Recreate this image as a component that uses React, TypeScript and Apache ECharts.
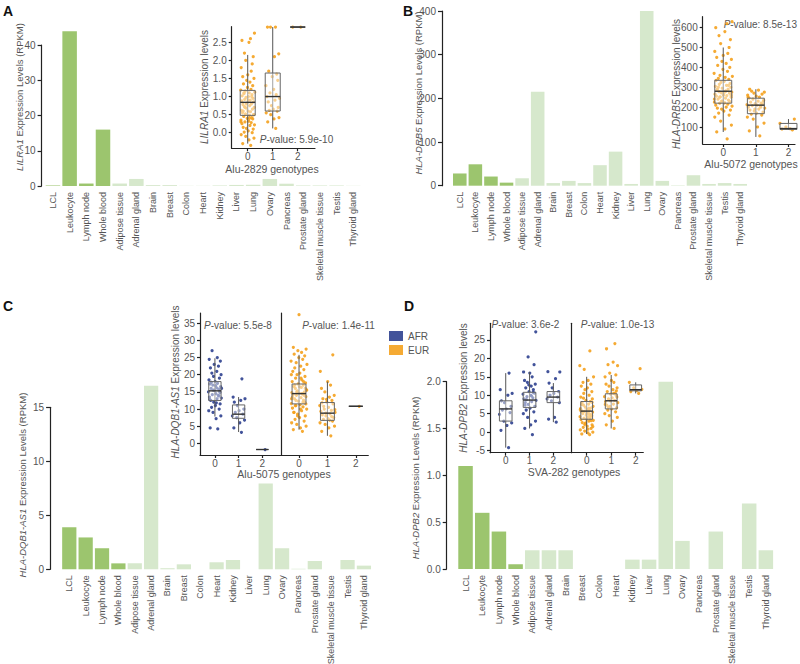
import React, { useEffect, useRef } from "react";
import * as echarts from "echarts";

// ---------- data ----------
const tissues = [
  "LCL", "Leukocyte", "Lymph node", "Whole blood", "Adipose tissue", "Adrenal gland",
  "Brain", "Breast", "Colon", "Heart", "Kidney", "Liver", "Lung", "Ovary", "Pancreas",
  "Prostate gland", "Skeletal muscle tissue", "Testis", "Thyroid gland",
];
const bloodTissueCount = 4;

const lilra1Rpkm = [0.15, 43.9, 0.7, 16, 0.7, 2.0, 0.25, 0.25, 0.05, 0.05, 0.15, 0.3, 0.35, 2.0, 0.65, 0.15, 0.15, 0.15, 0.05];
const drb5Rpkm = [28, 49, 21, 7, 17, 215, 6, 11, 6, 47, 78, 4, 400, 11, 1, 24, 4, 6, 4];
const dqb1as1Rpkm = [3.9, 2.95, 1.95, 0.55, 0.55, 17, 0.1, 0.46, 0, 0.65, 0.86, 0, 7.95, 1.95, 0.05, 0.77, 0, 0.86, 0.34];
const dpb2Rpkm = [1.1, 0.6, 0.4, 0.05, 0.2, 0.2, 0.2, 0, 0, 0, 0.1, 0.1, 2.0, 0.3, 0, 0.4, 0, 0.7, 0.2];

const genotypes = [0, 1, 2];
const lilra1Ticks = [0, 0.5, 1, 1.5, 2, 2.5];
const drb5Ticks = [100, 200, 300, 400, 500, 600];
const dqb1Ticks = [0, 5, 10, 15, 20, 25, 30, 35];
const dpb2Ticks = [-5, 0, 5, 10, 15, 20, 25];

// box stats: [genotype, low whisker, q1, median, q3, high whisker]
const lilra1Box = [[0, -0.3, 0.48, 0.84, 1.17, 2.15], [1, 0.12, 0.6, 1.0, 1.65, 2.92], [2, 2.92, 2.92, 2.92, 2.92, 2.92]];
const drb5Box = [[0, 75, 220, 280, 335, 500], [1, 50, 167, 210, 245, 290], [2, 85, 88, 92, 118, 140]];
const dqb1AfrBox = [[0, 7.8, 12.5, 15.3, 18, 24.8], [1, 3.3, 7.3, 8.5, 11.2, 13.5], [2, -1.8, -1.8, -1.8, -1.8, -1.8]];
const dqb1EurBox = [[0, 4, 11.5, 14.5, 17.3, 25.8], [1, 2.2, 6.7, 8.8, 11.9, 18], [2, 10.8, 10.8, 10.8, 10.8, 10.8]];
const dpb2AfrBox = [[0, -4.2, 3, 6.3, 8.5, 16], [1, 1, 6.7, 8.7, 10.8, 16.3], [2, 2.7, 8, 9.5, 11, 13.3]];
const dpb2EurBox = [[0, -0.5, 3.5, 5.7, 8.3, 15], [1, 1, 6.3, 8.5, 10.4, 15.5], [2, 10.5, 11.2, 11.5, 12.8, 13.5]];

// individual expression values per genotype
const lilra1Pts = [
  [-0.35, -0.3, -0.2, -0.15, -0.1, -0.05, 0, 0.02, 0.05, 0.1, 0.12, 0.15, 0.2, 0.22, 0.25, 0.28, 0.3, 0.32, 0.35, 0.38, 0.4, 0.42, 0.45, 0.48, 0.5, 0.52, 0.55, 0.58, 0.6, 0.62, 0.65, 0.68, 0.7, 0.72, 0.75, 0.78, 0.8, 0.82, 0.85, 0.88, 0.9, 0.92, 0.95, 0.98, 1.0, 1.02, 1.05, 1.08, 1.1, 1.12, 1.15, 1.18, 1.2, 1.25, 1.3, 1.35, 1.4, 1.45, 1.5, 1.55, 1.6, 1.7, 1.8, 1.9, 2.0, 2.1, 2.2, 2.5, 2.55, 2.6, 2.75, 0.7, 0.9, 0.6, 1.0, 0.8, 0.5, 1.1, 0.4, 0.3],
  [0.12, 0.3, 0.38, 0.42, 0.5, 0.55, 0.6, 0.62, 0.65, 0.7, 0.75, 0.85, 0.9, 0.95, 1.0, 1.05, 1.1, 1.2, 1.3, 1.45, 1.55, 1.62, 1.7, 2.1, 2.18, 2.92, 2.92, 2.92],
  [2.92, 2.92],
];
const drb5Pts = [
  [40, 75, 90, 110, 130, 150, 160, 170, 180, 185, 190, 195, 200, 205, 210, 215, 220, 222, 225, 228, 230, 235, 240, 245, 250, 252, 255, 258, 260, 265, 270, 272, 275, 278, 280, 285, 290, 295, 300, 305, 310, 315, 320, 325, 330, 335, 340, 345, 350, 355, 360, 370, 380, 390, 400, 410, 420, 430, 440, 450, 460, 470, 480, 500, 520, 540, 560, 580, 600, 620, 630, 250, 270, 290, 310, 230, 260, 300, 280, 240],
  [55, 80, 100, 120, 140, 150, 160, 165, 170, 175, 180, 185, 190, 195, 200, 205, 208, 210, 212, 215, 218, 220, 225, 230, 235, 240, 245, 250, 255, 260, 265, 270, 275, 280, 285, 290, 200, 190, 230, 250],
  [85, 90, 92, 95, 100, 118, 140],
];
const dqb1AfrPts = [
  [4.2, 4.5, 7.2, 8, 9, 9.5, 10, 10.5, 11, 11.5, 12, 12.5, 13, 13.2, 13.5, 14, 14.2, 14.5, 15, 15.2, 15.5, 15.8, 16, 16.2, 16.5, 17, 17.3, 17.5, 18, 18.5, 19, 19.5, 20, 20.5, 21, 22, 22.5, 23, 24, 24.5, 25, 27, 14.8, 15.5, 16.8, 12.8, 13.8, 17.8, 11.8, 16],
  [3.2, 4.5, 6, 6.8, 7.5, 8, 8.5, 9, 9.5, 10, 11, 12, 12.5, 13, 13.5, 18.8],
  [-1.8],
];
const dqb1EurPts = [
  [3.5, 4, 4.5, 5, 5.5, 6, 6.5, 7, 7.5, 8, 8.5, 9, 9.5, 10, 10.3, 10.6, 11, 11.3, 11.6, 12, 12.3, 12.6, 13, 13.3, 13.6, 14, 14.2, 14.4, 14.6, 14.8, 15, 15.3, 15.6, 16, 16.3, 16.6, 17, 17.3, 17.6, 18, 18.5, 19, 19.5, 20, 20.5, 21, 21.5, 22, 22.5, 23, 23.5, 24, 24.5, 25, 25.5, 26, 26.5, 27, 27.5, 28, 37.5, 12, 13, 14, 15, 16, 11, 10, 13.5, 14.5, 15.5, 12.5, 16.5, 9, 18, 8, 11.5, 17, 19, 20],
  [2.2, 3.5, 4.5, 5, 5.5, 6, 6.5, 7, 7.2, 7.5, 8, 8.3, 8.6, 9, 9.3, 9.6, 10, 10.5, 11, 11.5, 12, 12.5, 13, 13.5, 14, 15, 16, 17, 18, 21, 25.8, 8.8, 9.8, 10.8, 6.8, 11.8, 7.8, 12.8],
  [10.8],
];
const dpb2AfrPts = [
  [-4.2, 0.5, 1.8, 2.5, 3, 4.8, 5.3, 6, 6.3, 7, 8, 8.5, 10, 10.5, 11.5, 16],
  [-0.7, 1, 2, 3, 4, 5, 5.5, 6, 6.5, 7, 7.5, 8, 8.3, 8.6, 9, 9.3, 9.6, 10, 10.3, 10.6, 11, 11.5, 12, 12.5, 13, 13.5, 14, 15, 16, 16.3, 18.3, 20.4, 27.2, 8.8, 9.8, 7.3, 10.8, 12.8],
  [2.7, 3.5, 4, 8, 8.5, 9, 9.5, 10, 10.5, 11, 12, 13.3, 14.5, 16.3, 16.4],
];
const dpb2EurPts = [
  [-0.7, -0.5, -0.2, 0, 0.3, 0.6, 1, 1.3, 1.6, 2, 2.3, 2.6, 3, 3.2, 3.4, 3.6, 3.8, 4, 4.2, 4.4, 4.6, 4.8, 5, 5.2, 5.4, 5.6, 5.8, 6, 6.2, 6.4, 6.6, 6.8, 7, 7.3, 7.6, 8, 8.3, 8.6, 9, 9.5, 10, 10.5, 11, 11.5, 12, 12.5, 13, 13.5, 14, 15, 17, 18, 22, 3.5, 4.5, 5.5, 6.5, 2.5, 1.5, 7.5, 5.1, 4.1, 6.1, 3.1, 2.1, 8.1, 9.2, 0.8, 5.7, 4.7],
  [1, 2, 3, 4, 4.5, 5, 5.5, 6, 6.3, 6.6, 7, 7.3, 7.6, 8, 8.3, 8.6, 9, 9.3, 9.6, 10, 10.3, 10.6, 11, 11.5, 12, 12.5, 13, 13.5, 14, 15, 15.5, 16, 18, 18.3, 19, 22.6, 24, 8.5, 9.5, 7.5, 10.5, 6.8, 11.2],
  [10.5, 11, 11.3, 11.6, 12, 13.5, 17.2],
];

// hand-typed horizontal jitter offsets (genotype units)
const jitterOffsets = [
  0.12, -0.2, 0.05, 0.25, -0.08, -0.26, 0.18, -0.14, 0.02, 0.22, -0.05, -0.18, 0.09, 0.27, -0.23, 0.14,
  -0.11, 0.04, -0.27, 0.2, -0.02, 0.16, -0.16, 0.07, 0.24, -0.09, -0.21, 0.11, 0.01, -0.25, 0.19, -0.06,
  0.26, -0.13, 0.08, -0.19, 0.15, -0.03, 0.23, -0.24, 0.1, -0.12, 0.21, -0.07, 0.03, -0.22, 0.17, -0.15,
  0.06, 0.28, -0.1, -0.28, 0.13, -0.01, 0.2, -0.17, 0.09, -0.04, 0.25, -0.2, 0.0, 0.14, -0.26, 0.18,
  -0.08, 0.22, -0.13, 0.05, -0.23, 0.11, 0.27, -0.11, 0.02, -0.18, 0.16, -0.05, 0.24, -0.15, 0.07, -0.27,
];

// ---------- styles ----------
const FONT = "'Liberation Sans Narrow', 'Liberation Sans', Arial, sans-serif";
const FONT_R = "'Liberation Sans', Arial, sans-serif";
const AX = "#222";
const LBL = "#555";
const DARK_G = "#9cc56e";
const LIGHT_G = "#d6e8cc";
const ORANGE = "#f4a11d";
const BLUE = "#2d408f";

export default function App() {
  const ref = useRef<HTMLDivElement>(null);

  useEffect(() => {
    if (!ref.current) return;
    document.body.style.margin = "0";
    const chart = echarts.init(ref.current, null, { renderer: "svg" });

    const grids: any[] = [];
    const xAxes: any[] = [];
    const yAxes: any[] = [];
    const series: any[] = [];

    const addGrid = (left: number, top: number, width: number, height: number) => {
      grids.push({ left, top, width, height, containLabel: false, outerBoundsMode: "none" });
      return grids.length - 1;
    };

    const barPanel = (
      g: number, values: number[], max: number, interval: number, offset: number, fmt?: (v: number) => string,
    ) => {
      xAxes.push({
        gridIndex: g, type: "category", data: tissues,
        axisLine: { show: false }, axisTick: { show: false },
        axisLabel: { rotate: 90, interval: 0, fontSize: 9, color: LBL, margin: 6, fontFamily: FONT_R },
        splitLine: { show: false },
      });
      yAxes.push({
        gridIndex: g, type: "value", min: 0, max, interval, offset,
        axisLine: { show: true, onZero: false, lineStyle: { color: AX, width: 1.2 } },
        axisTick: { show: true, length: 4, lineStyle: { color: AX, width: 1.2 } },
        axisLabel: { color: LBL, fontSize: 10, fontFamily: FONT, margin: 6, formatter: fmt },
        splitLine: { show: false },
      });
      const ai = xAxes.length - 1;
      series.push({
        type: "bar", xAxisIndex: ai, yAxisIndex: ai, barCategoryGap: "13%", clip: false, silent: true,
        data: values.map((v, i) => ({ value: v, itemStyle: { color: i < bloodTissueCount ? DARK_G : LIGHT_G } })),
      });
    };

    const insetAxes = (
      g: number, xmin: number, xmax: number, ymin: number, ymax: number,
      yTicks: number[] | null, fmt?: (v: number) => string,
    ) => {
      xAxes.push({
        gridIndex: g, type: "value", min: xmin, max: xmax,
        axisLine: { show: true, onZero: false, lineStyle: { color: AX, width: 1.2 } },
        axisTick: { show: true, customValues: genotypes, length: 3, lineStyle: { color: AX, width: 1.2 } },
        axisLabel: { customValues: genotypes, color: LBL, fontSize: 10, fontFamily: FONT, margin: 3 },
        splitLine: { show: false },
      });
      yAxes.push({
        gridIndex: g, type: "value", min: ymin, max: ymax,
        axisLine: { show: true, onZero: false, lineStyle: { color: AX, width: 1.2 } },
        axisTick: yTicks
          ? { show: true, customValues: yTicks, length: 3, lineStyle: { color: AX, width: 1.2 } }
          : { show: false },
        axisLabel: yTicks
          ? { customValues: yTicks, color: LBL, fontSize: 10, fontFamily: FONT, margin: 5, formatter: fmt }
          : { show: false },
        splitLine: { show: false },
      });
      return xAxes.length - 1;
    };

    const dots = (ai: number, name: string, groups: number[][], color: string) => {
      const data: number[][] = [];
      groups.forEach((ys, g) => {
        ys.forEach((y, i) => data.push([genotypes[g] + jitterOffsets[i % jitterOffsets.length], y]));
      });
      series.push({
        type: "scatter", name, xAxisIndex: ai, yAxisIndex: ai, symbolSize: 3.2, silent: true, z: 2,
        itemStyle: { color, opacity: 0.9 }, data,
      });
    };

    const boxes = (ai: number, data: number[][], bw: number) => {
      series.push({
        type: "custom", xAxisIndex: ai, yAxisIndex: ai, silent: true, z: 3, data,
        encode: { x: 0, y: [1, 2, 3, 4, 5] },
        renderItem: (_p: any, api: any) => {
          const x = api.value(0);
          const lo = api.coord([x, api.value(1)]);
          const q1 = api.coord([x, api.value(2)]);
          const md = api.coord([x, api.value(3)]);
          const q3 = api.coord([x, api.value(4)]);
          const hi = api.coord([x, api.value(5)]);
          const w = api.size([bw, 0])[0];
          const cx = lo[0];
          return {
            type: "group",
            children: [
              { type: "line", shape: { x1: cx, y1: lo[1], x2: cx, y2: hi[1] }, style: { stroke: "#555", lineWidth: 1 } },
              {
                type: "rect", shape: { x: cx - w / 2, y: q3[1], width: w, height: q1[1] - q3[1] },
                style: { fill: "rgba(255,255,255,0.45)", stroke: "#666", lineWidth: 1 },
              },
              { type: "line", shape: { x1: cx - w / 2, y1: md[1], x2: cx + w / 2, y2: md[1] }, style: { stroke: "#333", lineWidth: 1.4 } },
            ],
          };
        },
      });
    };

    const f1 = (v: number) => v.toFixed(1);

    // Panel A
    barPanel(addGrid(44.6, 45, 317, 141), lilra1Rpkm, 40, 10, 3);
    const aI = insetAxes(addGrid(231.7, 26.7, 83.3, 121.6), -0.64, 2.69, -0.43, 2.93, lilra1Ticks, f1);
    dots(aI, "EUR", lilra1Pts, ORANGE);
    boxes(aI, lilra1Box, 0.6);

    // Panel B
    barPanel(addGrid(452, 11, 296, 174.7), drb5Rpkm, 400, 100, 10);
    const bI = insetAxes(addGrid(702.7, 16.7, 92.3, 127.3), -0.63, 2.2, 14.5, 655, drb5Ticks);
    dots(bI, "EUR", drb5Pts, ORANGE);
    boxes(bI, drb5Box, 0.52);

    // Panel C
    barPanel(addGrid(61.1, 407.3, 311, 162), dqb1as1Rpkm, 15, 5, 11);
    const cA = insetAxes(addGrid(200, 313, 81.7, 142), -0.63, 2.82, -3.4, 38, dqb1Ticks);
    dots(cA, "AFR", dqb1AfrPts, BLUE);
    boxes(cA, dqb1AfrBox, 0.52);
    const cE = insetAxes(addGrid(281.7, 313, 86.6, 142), -0.61, 2.44, -3.4, 38, null);
    dots(cE, "EUR", dqb1EurPts, ORANGE);
    boxes(cE, dqb1EurBox, 0.49);

    // Panel D
    barPanel(addGrid(457.2, 381.7, 317, 187.3), dpb2Rpkm, 2, 0.5, 10.5, f1);
    const dA = insetAxes(addGrid(490, 323.3, 81, 129.4), -0.66, 2.74, -5.57, 29.5, dpb2Ticks);
    dots(dA, "AFR", dpb2AfrPts, BLUE);
    boxes(dA, dpb2AfrBox, 0.53);
    const dE = insetAxes(addGrid(571, 323.3, 72.3, 129.4), -0.64, 2.31, -5.57, 29.5, null);
    dots(dE, "EUR", dpb2EurPts, ORANGE);
    boxes(dE, dpb2EurBox, 0.48);

    const rich = (size: number, fam: string) => ({
      i: { fontStyle: "italic", fontSize: size, fontFamily: fam, fill: LBL, color: LBL },
    });
    const txt = (x: number, y: number, text: string, size: number, rot = 0, fam = FONT, align = "center") => ({
      type: "text", x, y, rotation: rot, silent: true,
      style: {
        text, fontSize: size, fontFamily: fam, fill: LBL,
        align, verticalAlign: "middle", textAlign: align, textVerticalAlign: "middle",
        rich: rich(size, fam),
      },
    });
    const letter = (x: number, y: number, t: string) => ({
      type: "text", x, y, silent: true,
      style: { text: t, fontSize: 14, fontWeight: "bold", fontFamily: FONT_R, fill: "#111", align: "left", verticalAlign: "middle", textAlign: "left", textVerticalAlign: "middle" },
    });
    const R = Math.PI / 2;

    const graphic = [
      letter(3, 11, "A"), letter(403, 11, "B"), letter(3, 306, "C"), letter(404, 306, "D"),
      // bar y titles
      txt(19, 97, "{i|LILRA1} Expression Levels (RPKM)", 9.5, R),
      txt(418, 93, "{i|HLA-DRB5} Expression Levels (RPKM)", 9.5, R),
      txt(22, 485, "{i|HLA-DQB1-AS1} Expression Levels (RPKM)", 9.5, R),
      txt(415, 478, "{i|HLA-DPB2} Expression Levels (RPKM)", 9.5, R),
      // inset y titles
      txt(204.3, 87, "{i|LILRA1} Expression levels", 10, R),
      txt(676, 84, "{i|HLA-DRB5} Expression levels", 10, R),
      txt(175, 382, "{i|HLA-DQB1-AS1} Expression levels", 10, R),
      txt(463, 388, "{i|HLA-DPB2} Expression levels", 10, R),
      // inset x titles
      txt(272, 169, "Alu-2829 genotypes", 10.5),
      txt(751, 164, "Alu-5072 genotypes", 10.5),
      txt(284, 474, "Alu-5075 genotypes", 10.5),
      txt(574, 471.5, "SVA-282 genotypes", 10.5),
      // p-values
      txt(296.5, 139, "{i|P}-value: 5.9e-10", 10),
      txt(797, 24, "{i|P}-value: 8.5e-13", 10, 0, FONT, "right"),
      txt(238, 325, "{i|P}-value: 5.5e-8", 10),
      txt(338.5, 325, "{i|P}-value: 1.4e-11", 10),
      txt(525.5, 324, "{i|P}-value: 3.6e-2", 10),
      txt(617.5, 324, "{i|P}-value: 1.0e-13", 10),
    ];

    chart.setOption({
      animation: false,
      backgroundColor: "#fff",
      textStyle: { fontFamily: FONT },
      grid: grids,
      xAxis: xAxes,
      yAxis: yAxes,
      series,
      legend: {
        data: ["AFR", "EUR"], orient: "vertical", left: 389, top: 331, itemWidth: 14, itemHeight: 10, itemGap: 4,
        icon: "rect", selectedMode: false, padding: 0,
        textStyle: { fontSize: 10, color: LBL, fontFamily: FONT },
      },
      graphic,
    });

    return () => chart.dispose();
  }, []);

  return <div ref={ref} style={{ width: 800, height: 664, position: "absolute", left: 0, top: 0 }} />;
}
